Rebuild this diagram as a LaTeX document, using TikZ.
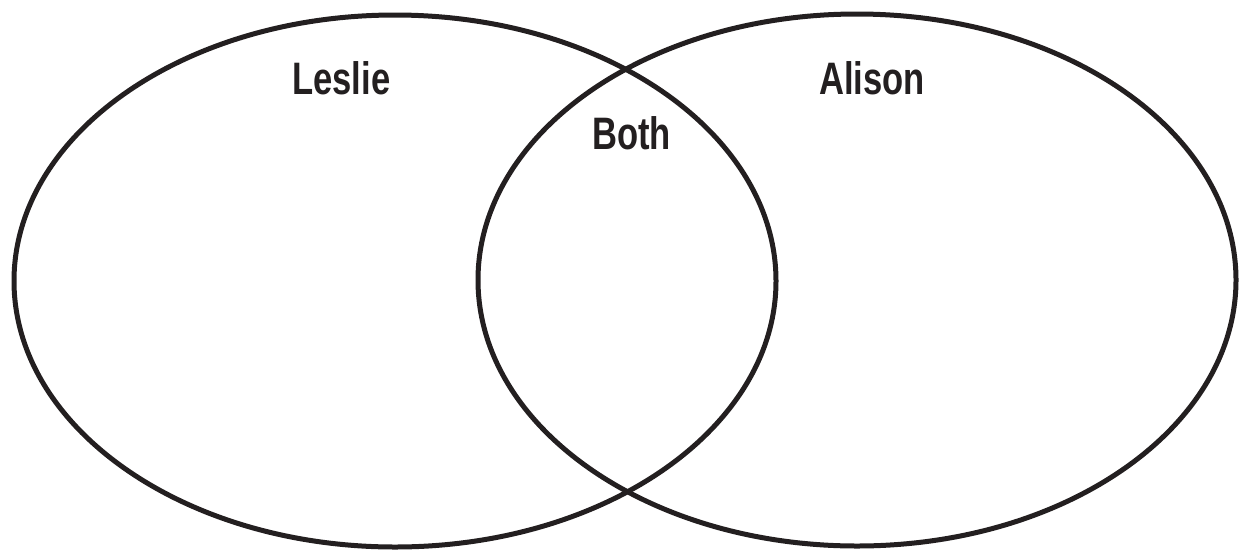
\documentclass[tikz,border=0pt]{standalone}
\usepackage{fontspec}
\setmainfont{Liberation Sans}
\newfontfamily\condfont[FakeStretch=0.76]{Liberation Sans}
\usetikzlibrary{shapes.geometric}
\definecolor{ink}{RGB}{35,31,32}
\tikzset{
  setoval/.style={draw=ink, line width=5pt, ellipse, inner sep=0pt, minimum width=#1, minimum height=532pt},
  lbl/.style={anchor=base west, inner sep=0pt, text=ink, font=\condfont\bfseries\fontsize{45.5}{45.5}\selectfont}
}
\begin{document}
\begin{tikzpicture}[x=1pt,y=-1pt]
\useasboundingbox (0,0) rectangle (1247,550);
\node[setoval=762pt] (leslieset) at (395,281) {};
\node[setoval=758pt] (alisonset) at (857,280) {};
\node[lbl] (leslie) at (292,94.5) {Leslie};
\node[lbl] (alison) at (819,94.5) {Alison};
\node[lbl] (both) at (592,149) {Both};
\end{tikzpicture}
\end{document}
